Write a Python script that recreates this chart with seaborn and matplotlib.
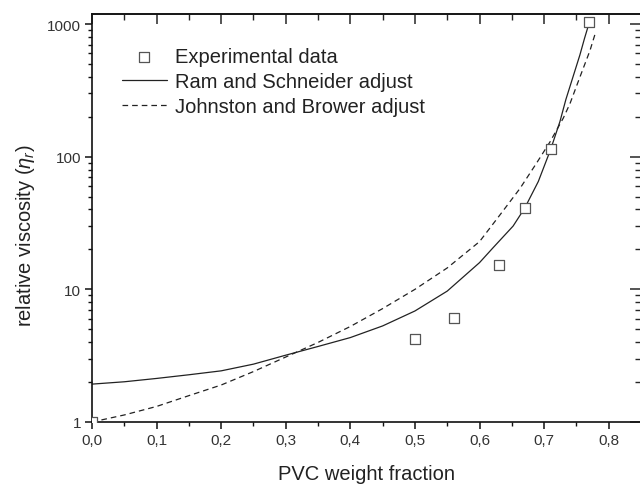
import numpy as np
import pandas as pd
import matplotlib
matplotlib.use("Agg")
import matplotlib.pyplot as plt
import seaborn as sns
from matplotlib.ticker import FuncFormatter, MultipleLocator, LogLocator, NullFormatter

# ---- data ----
exp_x = [0.0, 0.50, 0.56, 0.63, 0.67, 0.71, 0.77]
exp_y = [1.0, 4.2, 6.1, 15.3, 41.0, 114.0, 1030.0]

ram_x = [0.0, 0.05, 0.1, 0.15, 0.2, 0.25, 0.3, 0.35, 0.4, 0.45, 0.5, 0.55, 0.6,
         0.621, 0.652, 0.67, 0.691, 0.71, 0.7245, 0.7337, 0.7554, 0.7625, 0.77]
ram_y = [1.93, 2.01, 2.13, 2.27, 2.43, 2.73, 3.19, 3.71, 4.33, 5.3, 6.87, 9.7, 15.9,
         20.6, 30.0, 41.0, 65.0, 113.0, 184.0, 270.0, 585.0, 778.0, 1030.0]

jb_x = [0.0, 0.05, 0.1, 0.15, 0.2, 0.25, 0.3, 0.35, 0.4, 0.45, 0.5, 0.55, 0.6,
        0.632, 0.6625, 0.688, 0.709, 0.7296, 0.74, 0.7554, 0.771, 0.7786]
jb_y = [1.0, 1.13, 1.31, 1.58, 1.90, 2.40, 3.09, 3.98, 5.25, 7.16, 10.0, 14.5, 22.9,
        36.6, 57.5, 89.0, 129.0, 195.0, 251.0, 398.0, 631.0, 832.0]

x_label = "PVC weight fraction"
y_label = r"relative viscosity ($\eta_r$)"
legend_labels = ["Experimental data", "Ram and Schneider adjust", "Johnston and Brower adjust"]

sns.set_style("ticks")
plt.rcParams["font.family"] = ["Liberation Sans", "DejaVu Sans"]
plt.rcParams["mathtext.fontset"] = "custom"
plt.rcParams["mathtext.rm"] = "Liberation Sans"
plt.rcParams["mathtext.it"] = "Liberation Sans:italic"

fig = plt.figure(figsize=(6.4, 4.85), dpi=100)
ax = fig.add_axes([92 / 640, 1 - 423 / 485, 549 / 640, 408 / 485])

ram_df = pd.DataFrame({"x": ram_x, "y": ram_y})
jb_df = pd.DataFrame({"x": jb_x, "y": jb_y})
exp_df = pd.DataFrame({"x": exp_x, "y": exp_y})

sns.lineplot(data=ram_df, x="x", y="y", ax=ax, color="#222222", lw=0.9,
             label=legend_labels[1], sort=False)
sns.lineplot(data=jb_df, x="x", y="y", ax=ax, color="#222222", lw=0.9,
             label=legend_labels[2], sort=False)
ax.lines[-1].set_dashes((4.5, 3.2))
sns.scatterplot(data=exp_df, x="x", y="y", ax=ax, marker="s", s=55,
                facecolor="white", edgecolor="#555555", linewidth=0.9,
                label=legend_labels[0], zorder=5)

ax.set_yscale("log")
ax.set_xlim(0, 0.85)
ax.set_ylim(1, 1190)

fmt_x = FuncFormatter(lambda v, p: f"{v:.1f}".replace(".", ","))
ax.xaxis.set_major_locator(MultipleLocator(0.1))
ax.xaxis.set_minor_locator(MultipleLocator(0.05))
ax.xaxis.set_major_formatter(fmt_x)
ax.yaxis.set_major_locator(LogLocator(base=10, numticks=10))
ax.yaxis.set_minor_locator(LogLocator(base=10, subs=np.arange(2, 10), numticks=20))
ax.yaxis.set_major_formatter(FuncFormatter(lambda v, p: f"{v:g}"))
ax.yaxis.set_minor_formatter(NullFormatter())

for s in ax.spines.values():
    s.set_linewidth(1.2)
    s.set_color("#111111")

ax.tick_params(axis="both", which="major", direction="out", length=5, width=1.1,
               labelsize=11, colors="#111111", labelcolor="#333333", pad=3)
ax.tick_params(axis="both", which="minor", direction="out", length=3, width=1.0,
               colors="#111111")

# top / right ticks pointing inward
axt = ax.secondary_xaxis("top")
axt.xaxis.set_major_locator(MultipleLocator(0.1))
axt.xaxis.set_minor_locator(MultipleLocator(0.05))
axt.tick_params(which="major", direction="in", length=7, width=1.1, labeltop=False)
axt.tick_params(which="minor", direction="in", length=4, width=1.0)
axt.spines["top"].set_linewidth(1.2)

axr = ax.secondary_yaxis("right")
axr.yaxis.set_major_locator(LogLocator(base=10, numticks=10))
axr.yaxis.set_minor_locator(LogLocator(base=10, subs=np.arange(2, 10), numticks=20))
axr.tick_params(which="major", direction="in", length=8, width=1.1, labelright=False)
axr.tick_params(which="minor", direction="in", length=4, width=1.0, labelright=False)
axr.yaxis.set_minor_formatter(NullFormatter())

ax.set_xlabel(x_label, fontsize=14.5, color="#222222", labelpad=12)
ax.set_ylabel(y_label, fontsize=14.5, color="#222222")
ax.yaxis.set_label_coords(-0.100, 0.458)

h, l = ax.get_legend_handles_labels()
order = [l.index(t) for t in legend_labels]
leg = ax.legend([h[i] for i in order], [l[i] for i in order], loc="upper left",
                bbox_to_anchor=(0.055, 0.918), frameon=False, fontsize=14.5,
                handlelength=2.2, handletextpad=0.42, labelspacing=0.28,
                borderpad=0, borderaxespad=0)
for t in leg.get_texts():
    t.set_color("#222222")

fig.savefig("out.png", dpi=100)
